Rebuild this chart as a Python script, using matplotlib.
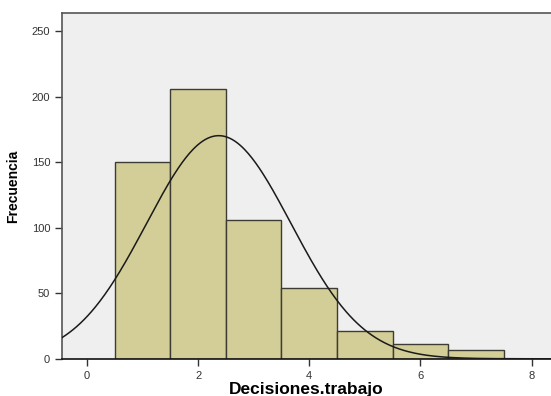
import numpy as np
import matplotlib.pyplot as plt

# Frequency table of Decisiones.trabajo (integer scores 1..7)
scores = [1, 2, 3, 4, 5, 6, 7]
counts = [150, 206, 106, 54, 21, 11, 7]

y_ticks = [0, 50, 100, 150, 200, 250]
x_ticks = [0, 2, 4, 6, 8]

plt.rcParams["font.family"] = ["Liberation Sans", "DejaVu Sans"]

scores_arr = np.array(scores, dtype=float)
counts_arr = np.array(counts, dtype=float)
n = counts_arr.sum()
mean = (scores_arr * counts_arr).sum() / n
sd = np.sqrt(((scores_arr - mean) ** 2 * counts_arr).sum() / (n - 1))

fig = plt.figure(figsize=(5.51, 3.96), dpi=100)
ax = fig.add_axes([0.1125, 0.094, 0.8875, 0.873])
ax.set_facecolor("#efefef")

ax.bar(scores, counts, width=1.0, color="#d3ce97", edgecolor="#3c3c34",
       linewidth=1.0, zorder=2)

# normal curve scaled to the histogram (bin width 1)
xmin, xmax = -0.45, 8.35
xs = np.linspace(xmin, xmax, 400)
ys = n / (sd * np.sqrt(2 * np.pi)) * np.exp(-0.5 * ((xs - mean) / sd) ** 2)
ax.plot(xs, ys, color="#1a1a1a", linewidth=1.1, zorder=3)

ax.set_xlim(xmin, xmax)
ax.set_ylim(0, 264)
ax.set_xticks(x_ticks)
ax.set_yticks(y_ticks)

for side in ["top", "left"]:
    ax.spines[side].set_color("#555555")
    ax.spines[side].set_linewidth(1.2)
ax.spines["bottom"].set_color("#111111")
ax.spines["bottom"].set_linewidth(1.2)
ax.spines["right"].set_visible(False)

ax.tick_params(axis="both", direction="out", length=5, width=1,
               color="#333333", labelsize=8, labelcolor="#333333")

ax.set_ylabel("Frecuencia", fontsize=10, fontweight="bold", labelpad=8)
ax.set_xlabel("Decisiones.trabajo", fontsize=12.5, fontweight="bold", labelpad=1)

fig.savefig("out.png", dpi=100)
